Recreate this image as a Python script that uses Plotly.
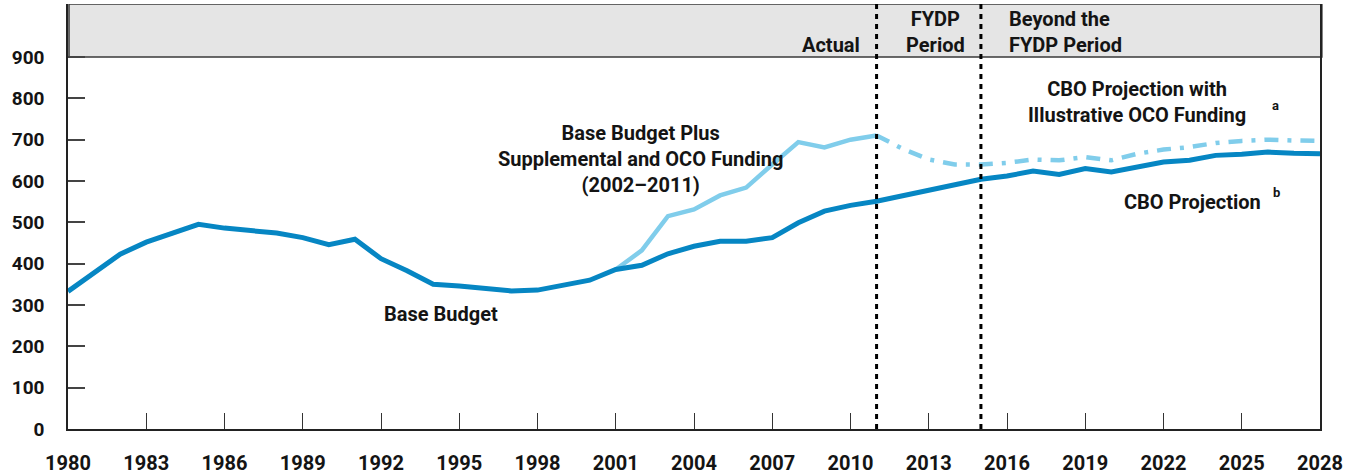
import plotly.graph_objects as go

# ---- data ----
years_all = list(range(1980, 2029))
base_budget = [333, 378, 423, 452, 473, 495, 486, 481, 474, 463, 446, 459, 412, 383, 350,
               346, 341, 334, 336, 348, 360, 386, 396, 424, 442, 454, 454, 463, 499, 527,
               541, 551, 565, 577, 590, 604, 612, 624, 616, 630, 622, 634, 646, 650, 662,
               665, 670, 667, 666]
years_oco = list(range(2001, 2012))
base_plus_oco = [386, 432, 515, 531, 565, 584, 640, 694, 681, 700, 710]
years_proj = list(range(2011, 2029))
proj_with_oco = [710, 678, 652, 640, 640, 644, 652, 650, 658, 650, 666, 676, 682, 692,
                 697, 700, 698, 697]
x_ticks = list(range(1980, 2029, 3))
y_ticks = list(range(0, 901, 100))
period_breaks = [2011, 2015]

DARK = "#0686c3"
LIGHT = "#80cdeb"
TXT = "#141414"
FONT = "Roboto"

fig = go.Figure()
fig.add_trace(go.Scatter(x=years_oco, y=base_plus_oco, mode="lines",
                         line=dict(color=LIGHT, width=4.5), hoverinfo="skip"))
fig.add_trace(go.Scatter(x=years_proj, y=proj_with_oco, mode="lines",
                         line=dict(color=LIGHT, width=4.5, dash="14px,9px,4px,9px"),
                         hoverinfo="skip"))
fig.add_trace(go.Scatter(x=years_all, y=base_budget, mode="lines",
                         line=dict(color=DARK, width=5), hoverinfo="skip"))

YTOP = 1028.2
shapes = [
    dict(type="rect", xref="paper", yref="y", x0=0.0008, x1=1.0015, y0=900, y1=YTOP,
         fillcolor="#e5e5e5", line=dict(color="#3a3a3a", width=1.5), layer="below"),
]
for b in period_breaks:
    shapes.append(dict(type="line", xref="x", yref="y", x0=b, x1=b, y0=0, y1=YTOP,
                       line=dict(color="#000000", width=3, dash="5px,5px"), layer="above"))
fig.update_layout(shapes=shapes)

def ann(text, x, y, xanchor="center", yanchor="middle", align="center", size=20):
    fig.add_annotation(text=text, x=x, y=y, xref="x", yref="y", showarrow=False,
                       xanchor=xanchor, yanchor=yanchor, align=align,
                       font=dict(family=FONT, size=size, color=TXT, weight="bold"))

ann("Actual", 2010.43, 928, xanchor="right")
ann("FYDP<br>Period", 2013.24, 961)
ann("Beyond the<br>FYDP Period", 2016.0, 961, xanchor="left", align="left")
ann("Base Budget", 1994.3, 279)
ann("Base Budget Plus<br>Supplemental and OCO Funding<br>(2002\u20132011)", 2001.95, 654)
ann("CBO Projection with<br>Illustrative OCO Funding", 2021.0, 791)
ann("a", 2026.3, 782, size=13)
ann("CBO Projection", 2023.1, 550)
ann("b", 2026.35, 572, size=13)

fig.update_layout(
    width=1357, height=475,
    margin=dict(l=68, r=37, t=4, b=46, autoexpand=False),
    paper_bgcolor="white", plot_bgcolor="white",
    showlegend=False,
    font=dict(family=FONT, size=20, color=TXT, weight="bold"),
    xaxis=dict(range=[1980, 2028], tickvals=x_ticks, ticktext=[str(v) for v in x_ticks],
               ticks="inside", ticklen=16, tickwidth=1, tickcolor="#333",
               showgrid=False, zeroline=False, showline=True, linecolor="#222",
               linewidth=2, ticklabelstandoff=15, automargin=False,
               tickfont=dict(family=FONT, size=20, color=TXT, weight="bold")),
    yaxis=dict(range=[0, YTOP], tickvals=y_ticks, ticks="inside", ticklen=17,
               tickwidth=1.5, tickcolor="#444", showgrid=False, zeroline=False,
               showline=True, linecolor="#222", linewidth=1.5, mirror=True,
               ticklabelstandoff=18, automargin=False,
               tickfont=dict(family=FONT, size=19, color=TXT, weight="bold")),
)

fig.write_html("out.html", config={"displayModeBar": False},
               post_script="document.body.style.margin='0';document.body.style.overflow='hidden';")
